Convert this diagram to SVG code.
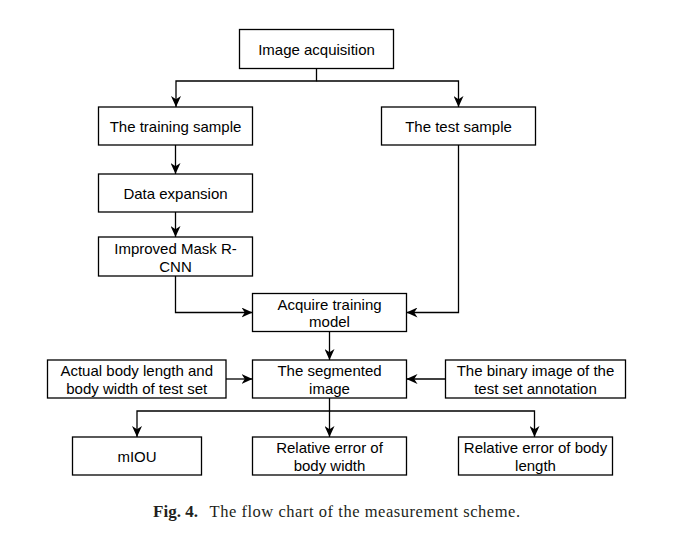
<svg xmlns="http://www.w3.org/2000/svg" width="674" height="559" viewBox="0 0 674 559">
<style>
.box{fill:#fff;stroke:#000;stroke-width:1.3}
.t{font-family:"Liberation Sans",Arial,sans-serif;font-size:15px;fill:#000;text-anchor:middle}
.c{fill:none;stroke:#000;stroke-width:1.3}
.cap{font-family:"Liberation Serif","Times New Roman",serif;font-size:16.5px;fill:#231f20}
</style>
<defs>
<marker id="ah" markerUnits="userSpaceOnUse" viewBox="0 0 11 10" refX="11" refY="5" markerWidth="11" markerHeight="10" orient="auto">
<path d="M0,0 L11,5 L0,10 L3.3,5 z" fill="#000"/>
</marker>
</defs>
<rect width="674" height="559" fill="#fff"/>
<g id="connectors">
<path class="c" d="M316.5,68.5 V81 H176 V107" marker-end="url(#ah)"/>
<path class="c" d="M316.5,81 H458.5 V107" marker-end="url(#ah)"/>
<path class="c" d="M175.5,145 V174" marker-end="url(#ah)"/>
<path class="c" d="M175.5,212 V237" marker-end="url(#ah)"/>
<path class="c" d="M175.5,276 V312.5 H252.5" marker-end="url(#ah)"/>
<path class="c" d="M458.5,145 V312.5 H406.5" marker-end="url(#ah)"/>
<path class="c" d="M329.5,331.5 V360" marker-end="url(#ah)"/>
<path class="c" d="M226,379 H252.5" marker-end="url(#ah)"/>
<path class="c" d="M445.5,379 H406.5" marker-end="url(#ah)"/>
<path class="c" d="M329.5,398 V411 H137 V437" marker-end="url(#ah)"/>
<path class="c" d="M329.5,411 V437" marker-end="url(#ah)"/>
<path class="c" d="M329.5,411 H534.5 V437" marker-end="url(#ah)"/>
</g>
<g id="n-acq"><rect class="box" x="239.5" y="29.5" width="154" height="39"/><text class="t" x="316.5" y="54.5">Image acquisition</text></g>
<g id="n-train"><rect class="box" x="98.5" y="107" width="154" height="38"/><text class="t" x="175.5" y="131.5">The training sample</text></g>
<g id="n-test"><rect class="box" x="381.5" y="107" width="154" height="38"/><text class="t" x="458.5" y="131.5">The test sample</text></g>
<g id="n-data"><rect class="box" x="98.5" y="174" width="154" height="38"/><text class="t" x="175.5" y="198.5">Data expansion</text></g>
<g id="n-mask"><rect class="box" x="98.5" y="237" width="154" height="39"/><text class="t" x="175.5" y="253.5">Improved Mask R-</text><text class="t" x="175.5" y="271.5">CNN</text></g>
<g id="n-model"><rect class="box" x="252.5" y="293.5" width="154" height="38"/><text class="t" x="329.5" y="309.5">Acquire training</text><text class="t" x="329.5" y="327">model</text></g>
<g id="n-seg"><rect class="box" x="252.5" y="360" width="154" height="38"/><text class="t" x="329.5" y="376">The segmented</text><text class="t" x="329.5" y="393.5">image</text></g>
<g id="n-actual"><rect class="box" x="47.5" y="360" width="178.5" height="38"/><text class="t" x="136.75" y="376">Actual body length and</text><text class="t" x="136.75" y="393.5">body width of test set</text></g>
<g id="n-binary"><rect class="box" x="445.5" y="360" width="180" height="38"/><text class="t" x="535.5" y="376">The binary image of the</text><text class="t" x="535.5" y="393.5">test set annotation</text></g>
<g id="n-miou"><rect class="box" x="72.5" y="437" width="129" height="38"/><text class="t" x="137" y="461.5">mIOU</text></g>
<g id="n-width"><rect class="box" x="252.5" y="437" width="154" height="38"/><text class="t" x="329.5" y="452.5">Relative error of</text><text class="t" x="329.5" y="470.5">body width</text></g>
<g id="n-length"><rect class="box" x="458.5" y="437" width="154" height="38"/><text class="t" x="535.5" y="452.5">Relative error of body</text><text class="t" x="535.5" y="470.5">length</text></g>
<g id="caption">
<text class="cap" x="153" y="517" font-weight="bold" textLength="45" lengthAdjust="spacingAndGlyphs">Fig. 4.</text>
<text class="cap" x="209.5" y="517" textLength="310.5" lengthAdjust="spacing">The flow chart of the measurement scheme.</text>
</g>
</svg>
